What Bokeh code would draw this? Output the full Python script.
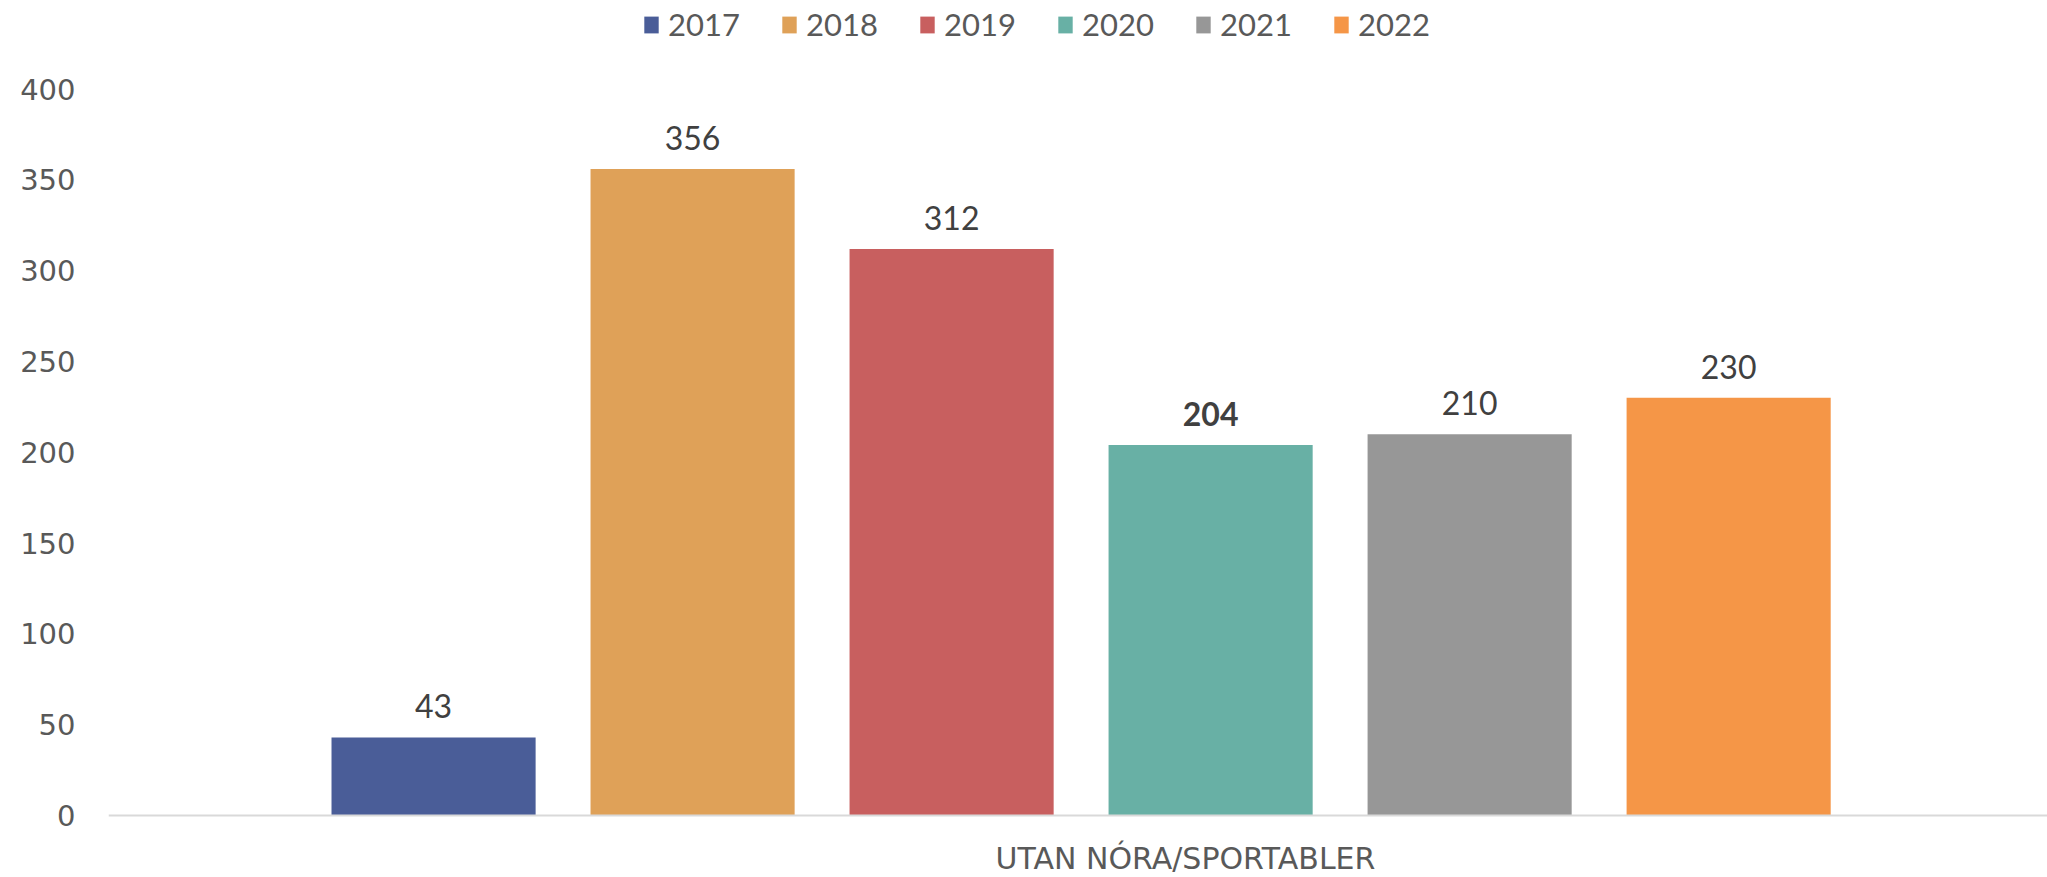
from bokeh.plotting import figure
from bokeh.models import ColumnDataSource, Range1d, Legend, LegendItem, FixedTicker, Span, Label
from bokeh.embed import file_html
from bokeh.resources import INLINE
from bokeh.core.properties import value

# ---- data ----
category = "UTAN NÓRA/SPORTABLER"
years = ["2017", "2018", "2019", "2020", "2021", "2022"]
counts = [43, 356, 312, 204, 210, 230]
y_ticks = [0, 50, 100, 150, 200, 250, 300, 350, 400]
highlight_year = "2020"

# ---- style ----
colors = ["#4A5D98", "#DFA158", "#C85F5F", "#68B0A5", "#979797", "#F59647"]
axis_text = "#595959"
label_text = "#404040"
font_axis = "DejaVu Sans"
font_lbl = "Lato"

xs = list(range(len(years)))
src = ColumnDataSource(dict(x=xs, top=counts, year=years, color=colors))
norm_idx = [i for i, y in enumerate(years) if y != highlight_year]
bold_idx = [i for i, y in enumerate(years) if y == highlight_year]
src_norm = ColumnDataSource(dict(x=[xs[i] for i in norm_idx], y=[counts[i] for i in norm_idx],
                                 label=[str(counts[i]) for i in norm_idx]))
src_bold = ColumnDataSource(dict(x=[xs[i] for i in bold_idx], y=[counts[i] for i in bold_idx],
                                 label=[str(counts[i]) for i in bold_idx]))

W, H = 2047, 877
p = figure(width=W, height=H,
           x_range=Range1d(-1.255, 6.231), y_range=Range1d(-34.1, 448.8),
           output_backend="svg", toolbar_location=None,
           min_border_left=108, min_border_right=0, min_border_top=0, min_border_bottom=0,
           outline_line_color=None, background_fill_color="white", border_fill_color="white")
p.xgrid.visible = False
p.ygrid.visible = False
p.xaxis.visible = False

# baseline
p.add_layout(Span(location=0, dimension="width", line_color="#D9D9D9", line_width=2))

r = p.vbar(x="x", top="top", width=0.788, bottom=0, color="color", source=src, line_color=None)

for s, style in ((src_norm, "normal"), (src_bold, "bold")):
    p.text(x="x", y="y", text="label", source=s, text_align="center",
           text_baseline="alphabetic", y_offset=-31, text_font_size=value("32px"),
           text_font=value(font_lbl), text_font_style=value(style), text_color=label_text)

# y axis
ya = p.yaxis[0]
ya.ticker = FixedTicker(ticks=y_ticks)
ya.axis_line_color = None
ya.major_tick_line_color = None
ya.minor_tick_line_color = None
ya.major_tick_out = 0
ya.major_label_standoff = 33
ya.major_label_text_font = font_axis
ya.major_label_text_font_size = "29px"
ya.major_label_text_color = axis_text

# category label below the baseline
p.add_layout(Label(x=1077, x_units="screen", y=0, y_units="data", y_offset=-43,
                   text=category, text_align="center", text_baseline="middle",
                   text_font=font_axis, text_font_size="30px", text_color=axis_text))

legend = Legend(items=[LegendItem(label=y, renderers=[r], index=i) for i, y in enumerate(years)],
                location=(534, 834), orientation="horizontal",
                border_line_color=None, background_fill_alpha=0,
                padding=0, margin=0, spacing=30, label_standoff=8,
                glyph_width=18, glyph_height=21, label_width=82, label_height=21,
                label_text_font=font_lbl, label_text_font_size="31px",
                label_text_color=axis_text)
p.add_layout(legend)

open("out.html", "w").write(file_html(p, INLINE))
